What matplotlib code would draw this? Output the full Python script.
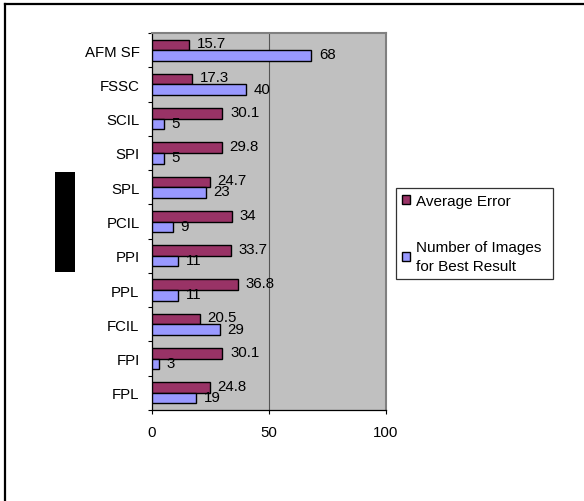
import matplotlib
matplotlib.use("Agg")
import matplotlib.pyplot as plt
from matplotlib.patches import Rectangle
from matplotlib.lines import Line2D
import numpy as np

plt.rcParams['font.family'] = ['Liberation Sans', 'DejaVu Sans']

# Methods, top to bottom
categories = ['AFM SF', 'FSSC', 'SCIL', 'SPI', 'SPL', 'PCIL',
              'PPI', 'PPL', 'FCIL', 'FPI', 'FPL']
average_error = [15.7, 17.3, 30.1, 29.8, 24.7, 34, 33.7, 36.8, 20.5, 30.1, 24.8]
best_count = [68, 40, 5, 5, 23, 9, 11, 11, 29, 3, 19]
series_names = ['Average Error', 'Number of Images\nfor Best Result']
x_ticks = [0, 50, 100]

W, H = 584, 502
fig = plt.figure(figsize=(W / 100, H / 100), dpi=100)
fig.patch.set_facecolor('white')

def fx(px):
    return px / W

def fy(py):
    return 1 - py / H

ax = fig.add_axes([fx(152), fy(411), fx(386) - fx(152), fy(34) - fy(411)])
ax.set_facecolor('#C0C0C0')

n = len(categories)
pos = np.arange(n)
bh = 0.31
red = '#993366'
blue = '#9999FF'

b1 = ax.barh(pos - bh / 2, average_error, height=bh, color=red,
             edgecolor='black', linewidth=1.0, zorder=3, label=series_names[0])
b2 = ax.barh(pos + bh / 2, best_count, height=bh, color=blue,
             edgecolor='black', linewidth=1.0, zorder=3, label=series_names[1])

fmt = lambda v: f'{v:g}'
for p, v in zip(pos, average_error):
    ax.annotate(fmt(v), (v, p - bh / 2), xytext=(5.5, 1.2), textcoords='offset points',
                ha='left', va='center', fontsize=10.8, zorder=4)
for p, v in zip(pos, best_count):
    ax.annotate(fmt(v), (v, p + bh / 2), xytext=(5.5, 0.8), textcoords='offset points',
                ha='left', va='center', fontsize=10.8, zorder=4)

ax.set_xlim(0, 100)
ax.set_ylim(n - 0.5, -0.5)
ax.set_xticks(x_ticks)
ax.set_xticklabels([str(t) for t in x_ticks], fontsize=10.8)
ax.set_yticks(pos)
ax.set_yticklabels(categories, fontsize=10.8)
ax.set_yticks(np.arange(n + 1) - 0.5, minor=True)
ax.tick_params(axis='y', which='major', length=0, pad=9)
ax.tick_params(axis='y', which='minor', length=3, width=0.8, direction='out')
ax.tick_params(axis='x', which='major', length=3, width=0.8, direction='out', pad=8)

ax.axvline(50, color='#555555', lw=0.8, zorder=1)

for s in ('top', 'right'):
    ax.spines[s].set_color('#808080')
    ax.spines[s].set_linewidth(1.5)
for s in ('left', 'bottom'):
    ax.spines[s].set_color('black')
    ax.spines[s].set_linewidth(0.9)

leg = ax.legend(handles=[b1, b2], loc='upper left',
                bbox_to_anchor=(fx(396), fy(278), fx(553) - fx(396), fy(189) - fy(278)),
                bbox_transform=fig.transFigure, mode='expand', borderaxespad=0,
                fontsize=11, frameon=True, fancybox=False, edgecolor='black',
                handlelength=0.5, handleheight=0.5, handletextpad=0.4,
                labelspacing=2.1, borderpad=0.4)
leg.get_frame().set_linewidth(0.9)
for t in leg.get_texts():
    t.set_linespacing(1.4)

# page frame and side marker
fig.add_artist(Line2D([fx(5), 1], [fy(5), fy(5)], color='black', lw=1.6))
fig.add_artist(Line2D([fx(5), fx(5)], [fy(5), 0], color='black', lw=1.6))
fig.patches.append(Rectangle((fx(55), fy(273)), fx(75) - fx(55), fy(173) - fy(273),
                             transform=fig.transFigure, facecolor='black',
                             edgecolor='none'))

fig.savefig('out.png', dpi=100)
